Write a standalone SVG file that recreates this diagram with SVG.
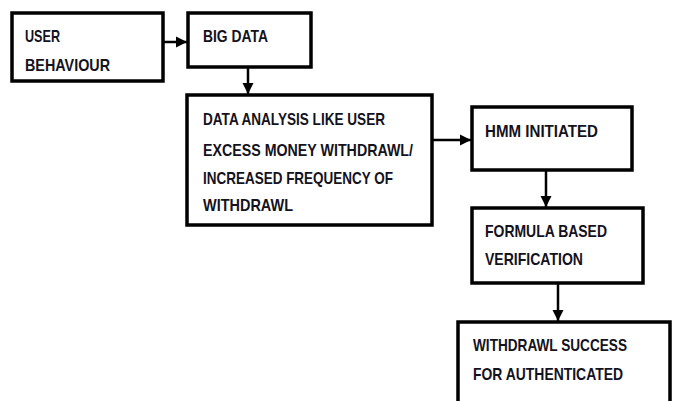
<svg xmlns="http://www.w3.org/2000/svg" width="678" height="401" viewBox="0 0 678 401">
  <defs>
    <marker id="arrow" viewBox="0 0 10 10" refX="10" refY="5" markerWidth="4.5" markerHeight="4.5" orient="auto" markerUnits="strokeWidth">
      <path d="M0,0 L10,5 L0,10 z" fill="#000"/>
    </marker>
    <style>
      .box { fill: #fff; stroke: #000; stroke-width: 3.5; }
      .lbl { font-family: "Liberation Sans Narrow", "Liberation Sans", Arial, sans-serif; font-weight: bold; font-size: 17px; fill: #14121c; }
      .edge { stroke: #000; stroke-width: 2.5; fill: none; marker-end: url(#arrow); }
    </style>
  </defs>
  <rect width="678" height="401" fill="#fff"/>

  <g id="connectors">
    <line class="edge" x1="163" y1="42" x2="187" y2="42"/>
    <line class="edge" x1="248" y1="67" x2="248" y2="94"/>
    <line class="edge" x1="432" y1="140" x2="471" y2="140"/>
    <line class="edge" x1="546" y1="170" x2="546" y2="207"/>
    <line class="edge" x1="558" y1="283" x2="558" y2="321"/>
  </g>

  <g id="user-behaviour">
    <rect class="box" x="12" y="13" width="151" height="68"/>
    <text class="lbl" x="25" y="42" textLength="35" lengthAdjust="spacingAndGlyphs">USER</text>
    <text class="lbl" x="25" y="71" textLength="85" lengthAdjust="spacingAndGlyphs">BEHAVIOUR</text>
  </g>

  <g id="big-data">
    <rect class="box" x="188" y="13" width="123" height="54"/>
    <text class="lbl" x="203" y="42" textLength="65" lengthAdjust="spacingAndGlyphs">BIG DATA</text>
  </g>

  <g id="data-analysis">
    <rect class="box" x="187" y="95" width="245" height="130"/>
    <text class="lbl" x="203" y="125" textLength="182" lengthAdjust="spacingAndGlyphs">DATA ANALYSIS LIKE USER</text>
    <text class="lbl" x="203" y="156" textLength="210" lengthAdjust="spacingAndGlyphs">EXCESS MONEY WITHDRAWL/</text>
    <text class="lbl" x="203" y="184" textLength="190" lengthAdjust="spacingAndGlyphs">INCREASED FREQUENCY OF</text>
    <text class="lbl" x="203" y="211" textLength="90" lengthAdjust="spacingAndGlyphs">WITHDRAWL</text>
  </g>

  <g id="hmm-initiated">
    <rect class="box" x="472" y="107" width="160" height="63"/>
    <text class="lbl" x="485" y="137" textLength="113" lengthAdjust="spacingAndGlyphs">HMM INITIATED</text>
  </g>

  <g id="formula-verification">
    <rect class="box" x="472" y="208" width="171" height="75"/>
    <text class="lbl" x="485" y="237" textLength="122" lengthAdjust="spacingAndGlyphs">FORMULA BASED</text>
    <text class="lbl" x="485" y="265" textLength="98" lengthAdjust="spacingAndGlyphs">VERIFICATION</text>
  </g>

  <g id="withdrawl-success">
    <rect class="box" x="458" y="322" width="212" height="90"/>
    <text class="lbl" x="473" y="351" textLength="154" lengthAdjust="spacingAndGlyphs">WITHDRAWL SUCCESS</text>
    <text class="lbl" x="473" y="380" textLength="150" lengthAdjust="spacingAndGlyphs">FOR AUTHENTICATED</text>
  </g>
</svg>
